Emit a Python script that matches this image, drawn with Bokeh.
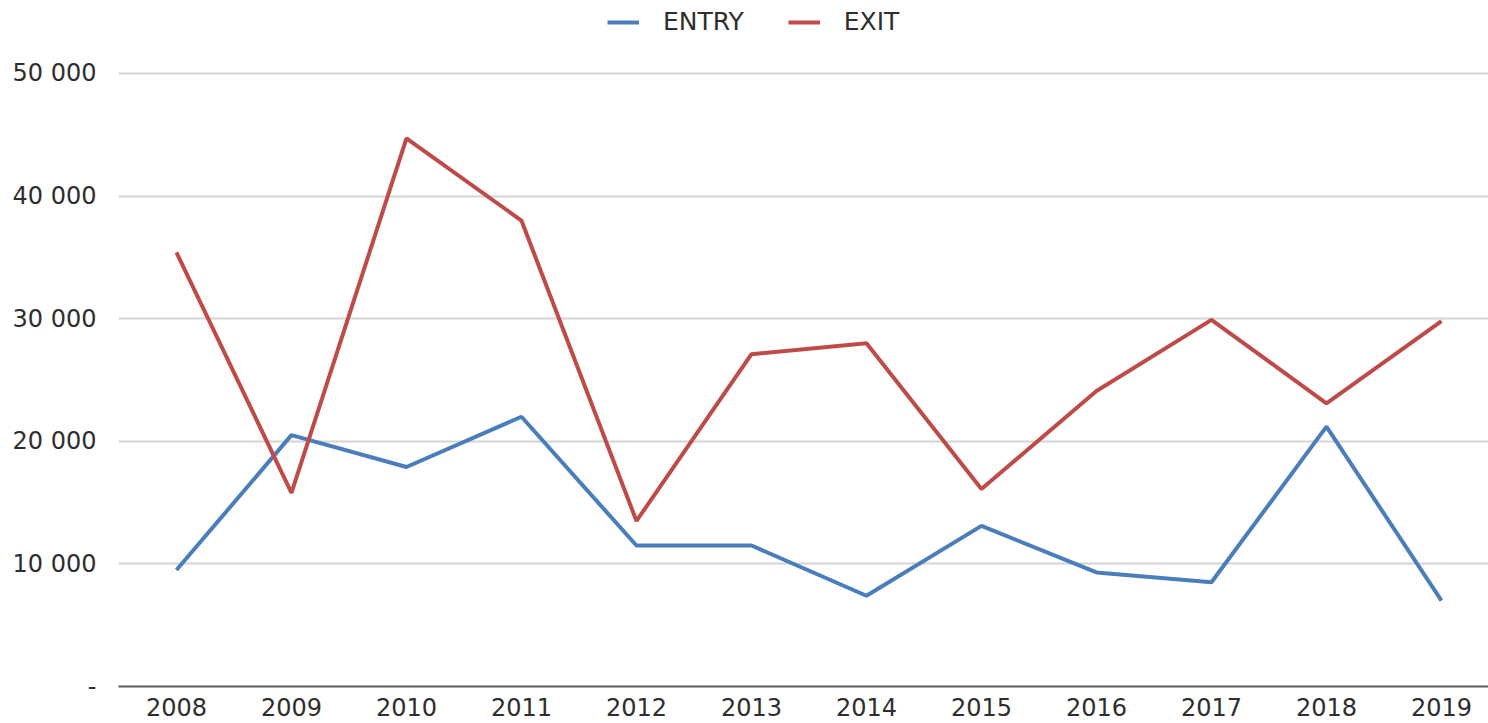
from bokeh.plotting import figure
from bokeh.models import FixedTicker, Range1d, Legend, LegendItem
from bokeh.embed import file_html
from bokeh.resources import INLINE

years = [2008, 2009, 2010, 2011, 2012, 2013, 2014, 2015, 2016, 2017, 2018, 2019]
entry = [9500, 20500, 17900, 22000, 11500, 11500, 7400, 13100, 9300, 8500, 21200, 7000]
exit_ = [35400, 15800, 44700, 38000, 13500, 27100, 28000, 16100, 24100, 29900, 23100, 29800]
y_ticks = [0, 10000, 20000, 30000, 40000, 50000]
y_labels = ["-", "10 000", "20 000", "30 000", "40 000", "50 000"]

FONT = "DejaVu Sans"
TXT = "#2E2E2E"
BLUE = "#4A7EBB"
RED = "#BE4B48"

p = figure(width=1488, height=723, output_backend="svg", toolbar_location=None,
           x_range=Range1d(2007.496, 2019.409), y_range=Range1d(0, 55950),
           min_border_left=118, min_border_right=0, min_border_top=0, min_border_bottom=37)
p.outline_line_color = None

r1 = p.line(years, entry, line_color=BLUE, line_width=4)
r2 = p.line(years, exit_, line_color=RED, line_width=4)

p.xaxis.ticker = FixedTicker(ticks=years)
p.xaxis.major_tick_line_color = None
p.xaxis.minor_tick_line_color = None
p.xaxis.axis_line_color = "#595959"
p.xaxis.axis_line_width = 2
p.xaxis.major_label_text_font = FONT
p.xaxis.major_label_text_font_size = "24px"
p.xaxis.major_label_text_color = TXT
p.xaxis.major_label_standoff = 5

p.yaxis.ticker = FixedTicker(ticks=y_ticks)
p.yaxis.major_label_overrides = {t: l for t, l in zip(y_ticks, y_labels)}
p.yaxis.axis_line_color = None
p.yaxis.major_tick_line_color = None
p.yaxis.minor_tick_line_color = None
p.yaxis.major_label_text_font = FONT
p.yaxis.major_label_text_font_size = "24px"
p.yaxis.major_label_text_color = TXT
p.yaxis.major_label_standoff = 16

p.xgrid.grid_line_color = None
p.ygrid.grid_line_color = "#D4D4D4"
p.ygrid.grid_line_width = 2

legend = Legend(items=[LegendItem(label="ENTRY", renderers=[r1]),
                       LegendItem(label="EXIT", renderers=[r2])],
                orientation="horizontal", location=(489, 650),
                padding=0, margin=0, spacing=44, label_standoff=24,
                glyph_width=32, glyph_height=28, label_height=28,
                label_text_font=FONT, label_text_font_size="25px", label_text_color=TXT,
                border_line_color=None, background_fill_alpha=0)
p.add_layout(legend)

open("out.html", "w").write(file_html(p, INLINE))
